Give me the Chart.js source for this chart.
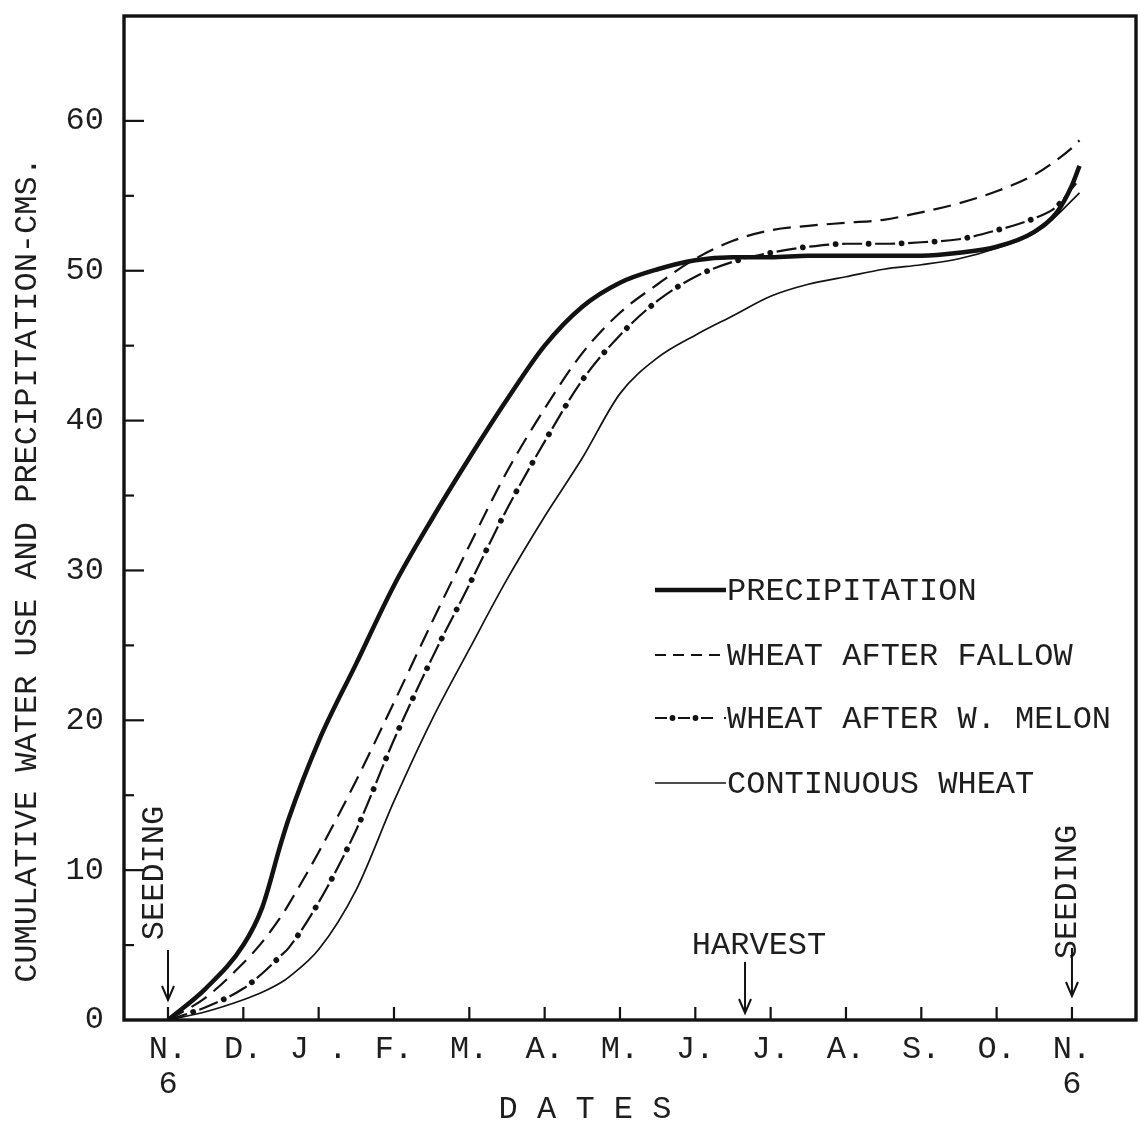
<!DOCTYPE html>
<html>
<head>
<meta charset="utf-8">
<script src="https://cdn.jsdelivr.net/npm/chart.js@4.4.1/dist/chart.umd.min.js"></script>
<style>
html,body{margin:0;padding:0;background:#ffffff;}
#wrap{width:1140px;height:1123px;position:relative;}
</style>
</head>
<body>
<div id="wrap"><canvas id="c" width="1140" height="1123"></canvas></div>
<script>
// ---- data (months after seeding on Nov 6) ----
const months = [0, 0.5, 1, 1.25, 1.5, 1.6, 2, 2.5, 3, 3.5, 4, 4.5, 5, 5.5, 6, 6.5, 7, 7.5, 8, 8.5, 9, 9.5, 10, 10.5, 11, 11.5, 11.8, 12, 12.1];
const precipitation    = [0, 2.1, 5.0, 7.5, 11.8, 13.4, 18.6, 23.8, 29.0, 33.4, 37.5, 41.4, 45.0, 47.6, 49.2, 50.1, 50.7, 50.9, 50.9, 51.0, 51.0, 51.0, 51.0, 51.2, 51.6, 52.6, 53.9, 55.7, 57.0];
const wheatAfterFallow = [0, 1.5, 3.8, 5.2, 6.9, 7.7, 11.2, 16.0, 21.2, 26.5, 31.65, 36.6, 40.8, 44.5, 47.2, 49.1, 50.8, 52.0, 52.7, 53.0, 53.2, 53.4, 53.9, 54.5, 55.3, 56.4, 57.4, 58.2, 58.7];
const wheatAfterMelon  = [0, 0.85, 2.1, 3.1, 4.3, 4.8, 7.85, 12.7, 18.7, 24.1, 29.05, 34.1, 38.6, 42.7, 45.7, 48.0, 49.6, 50.6, 51.2, 51.6, 51.8, 51.8, 51.9, 52.1, 52.7, 53.5, 54.3, 55.5, 56.1];
const continuousWheat  = [0, 0.55, 1.35, 1.85, 2.5, 2.85, 4.7, 8.7, 14.6, 20.0, 24.75, 29.4, 33.6, 37.5, 41.8, 44.2, 45.7, 47.0, 48.3, 49.1, 49.6, 50.1, 50.4, 50.8, 51.5, 52.5, 53.7, 54.7, 55.2];

const monthTicks  = [0, 1, 2, 3, 4, 5, 6, 7, 8, 9, 10, 11, 12];
const monthLabels = [['N.', '6'], 'D.', 'J .', 'F.', 'M.', 'A.', 'M.', 'J.', 'J.', 'A.', 'S.', 'O.', ['N.', '6']];
const yTicks = [0, 5, 10, 15, 20, 25, 30, 35, 40, 45, 50, 55, 60];
const seriesNames = ['PRECIPITATION', 'WHEAT AFTER FALLOW', 'WHEAT AFTER W. MELON', 'CONTINUOUS WHEAT'];
const yTitle = 'CUMULATIVE WATER USE AND PRECIPITATION-CMS.';
const xTitle = 'D A T E S';
const harvestMonth = 7.66;
const seedingMonths = [0, 12];

// ---- styling ----
const INK = '#121212';
const TXT = '#1e1e1e';
const FONT = "'Liberation Mono', 'DejaVu Sans Mono', monospace";
const FS = 32;

const toPoints = vals => months.map((m, i) => ({ x: m, y: vals[i] }));
const base = { borderColor: INK, backgroundColor: INK, pointRadius: 0, pointHoverRadius: 0, fill: false, cubicInterpolationMode: 'monotone' };

function line(ctx, x0, y0, x1, y1) { ctx.beginPath(); ctx.moveTo(x0, y0); ctx.lineTo(x1, y1); ctx.stroke(); }
function arrowDown(ctx, x, y0, y1) {
  ctx.setLineDash([]);
  line(ctx, x, y0, x, y1);
  ctx.beginPath(); ctx.moveTo(x - 6, y1 - 14); ctx.lineTo(x, y1); ctx.lineTo(x + 6, y1 - 14); ctx.stroke();
}

const decor = {
  id: 'decor',
  afterDraw(chart) {
    const { ctx, chartArea: a, scales: { x, y } } = chart;
    ctx.save();
    ctx.strokeStyle = INK; ctx.fillStyle = TXT;
    // frame
    ctx.lineWidth = 3.4; ctx.setLineDash([]);
    ctx.strokeRect(a.left, a.top, a.right - a.left, a.bottom - a.top);
    // inward ticks
    ctx.lineWidth = 2.2;
    y.ticks.forEach(t => {
      const py = y.getPixelForValue(t.value);
      const len = t.value % 10 === 0 ? 20 : 10;
      if (t.value > 0) line(ctx, a.left, py, a.left + len, py);
    });
    x.ticks.forEach(t => {
      const px = x.getPixelForValue(t.value);
      line(ctx, px, a.bottom, px, a.bottom - 13);
    });
    // annotations
    ctx.lineWidth = 2;
    ctx.font = FS + 'px ' + FONT;
    ctx.textAlign = 'center'; ctx.textBaseline = 'middle';
    const sx0 = x.getPixelForValue(seedingMonths[0]);
    arrowDown(ctx, sx0, a.bottom - 70, a.bottom - 20);
    ctx.save(); ctx.translate(sx0 - 13, a.bottom - 147); ctx.rotate(-Math.PI / 2); ctx.fillText('SEEDING', 0, 0); ctx.restore();
    const sx1 = x.getPixelForValue(seedingMonths[1]);
    ctx.save(); ctx.translate(sx1 - 4, a.bottom - 128); ctx.rotate(-Math.PI / 2); ctx.fillText('SEEDING', 0, 0); ctx.restore();
    arrowDown(ctx, sx1, a.bottom - 72, a.bottom - 24);
    const hx = x.getPixelForValue(harvestMonth);
    ctx.fillText('HARVEST', hx + 14, a.bottom - 74);
    arrowDown(ctx, hx, a.bottom - 58, a.bottom - 7);
    // axis titles
    ctx.save(); ctx.translate(28, 570); ctx.rotate(-Math.PI / 2); ctx.fillText(yTitle, 0, 0); ctx.restore();
    ctx.fillText(xTitle, 585, 1110);
    // legend
    const rows = [
      { y: 590, w: 4.5, dash: [] },
      { y: 655, w: 2.2, dash: [11, 7] },
      { y: 718, w: 2.2, dash: [12, 11], dots: true },
      { y: 783, w: 1.7, dash: [] }
    ];
    const lx0 = 655, lx1 = 726;
    rows.forEach((r, i) => {
      ctx.lineWidth = r.w; ctx.setLineDash(r.dash); ctx.lineCap = 'butt';
      line(ctx, lx0, r.y, lx1, r.y);
      if (r.dots) {
        ctx.setLineDash([]);
        [lx0 + 17.5, lx0 + 40.5].forEach(dx => { ctx.beginPath(); ctx.arc(dx, r.y, 2.9, 0, Math.PI * 2); ctx.fillStyle = INK; ctx.fill(); });
      }
      ctx.setLineDash([]);
      ctx.fillStyle = TXT; ctx.textAlign = 'left';
      ctx.fillText(seriesNames[i], lx1 + 1, r.y + 2);
    });
    ctx.restore();
  }
};

new Chart(document.getElementById('c'), {
  type: 'line',
  data: {
    datasets: [
      Object.assign({}, base, { label: seriesNames[3], data: toPoints(continuousWheat), borderWidth: 1.7 }),
      Object.assign({}, base, { label: seriesNames[2], data: toPoints(wheatAfterMelon), borderWidth: 2.2, borderDash: [20, 13] }),
      Object.assign({}, base, { label: seriesNames[2] + ' dots', data: toPoints(wheatAfterMelon), borderWidth: 5.8, borderDash: [0.01, 32.99], borderDashOffset: 6.5, borderCapStyle: 'round' }),
      Object.assign({}, base, { label: seriesNames[1], data: toPoints(wheatAfterFallow), borderWidth: 2.2, borderDash: [18, 9] }),
      Object.assign({}, base, { label: seriesNames[0], data: toPoints(precipitation), borderWidth: 4.5 })
    ]
  },
  options: {
    responsive: false,
    animation: false,
    events: [],
    layout: { padding: { left: 0, right: 4, top: 16, bottom: 0 } },
    plugins: { legend: { display: false }, tooltip: { enabled: false }, title: { display: false } },
    scales: {
      x: {
        type: 'linear', min: -0.584, max: 12.85,
        afterBuildTicks: s => { s.ticks = monthTicks.map(v => ({ value: v })); },
        afterFit: s => { s.height = 103; s.paddingLeft = 0; s.paddingRight = 0; },
        grid: { display: false, drawTicks: false },
        border: { display: false },
        ticks: { autoSkip: false, maxRotation: 0, minRotation: 0, padding: 12, color: TXT,
          font: { family: FONT, size: FS, lineHeight: 1.1 },
          callback: v => monthLabels[monthTicks.indexOf(v)] }
      },
      y: {
        type: 'linear', min: 0, max: 67,
        afterBuildTicks: s => { s.ticks = yTicks.map(v => ({ value: v })); },
        afterFit: s => { s.width = 124; s.paddingTop = 0; s.paddingBottom = 0; },
        grid: { display: false, drawTicks: false },
        border: { display: false },
        ticks: { padding: 20, color: TXT, font: { family: FONT, size: FS },
          callback: v => (v % 10 === 0 ? String(v) : '') }
      }
    }
  },
  plugins: [decor]
});
</script>
</body>
</html>
